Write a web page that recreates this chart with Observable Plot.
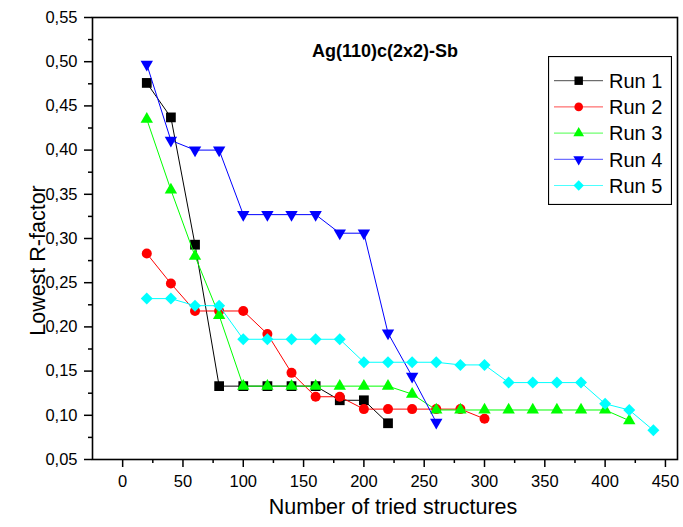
<!DOCTYPE html>
<html><head><meta charset="utf-8">
<script src="https://cdn.jsdelivr.net/npm/d3@7"></script>
<script src="https://cdn.jsdelivr.net/npm/@observablehq/plot@0.6"></script>
<style>
body{margin:0;background:#fff;font-family:Arial,"Liberation Sans",sans-serif}
#wrap{position:relative;width:683px;height:527px}
#legend{position:absolute;left:548px;top:56px}
</style>
</head><body><div id="wrap"></div>
<script>
const tried = [20,40,60,80,100,120,140,160,180,200,220,240,260,280,300,320,340,360,380,400,420,440];
const run1 = [0.476,0.437,0.293,0.133,0.133,0.133,0.133,0.133,0.117,0.117,0.091];
const run2 = [0.283,0.249,0.218,0.218,0.218,0.192,0.148,0.121,0.121,0.107,0.107,0.107,0.107,0.107,0.096];
const run3 = [0.435,0.355,0.280,0.213,0.133,0.133,0.133,0.133,0.133,0.133,0.133,0.124,0.106,0.106,0.106,0.106,0.106,0.106,0.106,0.106,0.094];
const run4 = [0.497,0.411,0.400,0.400,0.327,0.327,0.327,0.327,0.306,0.306,0.193,0.144,0.092];
const run5 = [0.232,0.232,0.224,0.224,0.186,0.186,0.186,0.186,0.186,0.160,0.160,0.160,0.160,0.157,0.157,0.137,0.137,0.137,0.137,0.113,0.106,0.083];
const seriesNames = ["Run 1","Run 2","Run 3","Run 4","Run 5"];
const seriesColors = ["#000000","#ff0000","#00ff00","#0000ff","#00ffff"];
const xTicks = [0,50,100,150,200,250,300,350,400,450];
const xMinorTicks = [25,75,125,175,225,275,325,375,425];
const yTicks = [0.05,0.10,0.15,0.20,0.25,0.30,0.35,0.40,0.45,0.50,0.55];
const yMinorTicks = [0.075,0.125,0.175,0.225,0.275,0.325,0.375,0.425,0.475,0.525];
const title = "Ag(110)c(2x2)-Sb";
const xLabel = "Number of tried structures";
const yLabel = "Lowest R-factor";

const sqrt3 = Math.sqrt(3);
const symbolTriangleDown = {draw(ctx, size){
  const y = Math.sqrt(size / (sqrt3 * 3));
  ctx.moveTo(0, 2*y); ctx.lineTo(-sqrt3*y, -y); ctx.lineTo(sqrt3*y, -y); ctx.closePath();
}};
const symbols = [d3.symbolSquare, d3.symbolCircle, d3.symbolTriangle, symbolTriangleDown, d3.symbolDiamond2];
const radii = [5.5, 5, 4.6, 4.6, 5.4];

const runs = [run1, run2, run3, run4, run5];
const data = runs.map((vals, i) => vals.map((v, j) => ({x: tried[j], y: v, run: seriesNames[i]})));

const fmt = d => d.toFixed(2).replace(".", ",");
const seriesMarks = data.flatMap((d, i) => [
  Plot.line(d, {x: "x", y: "y", stroke: seriesColors[i], strokeWidth: 1}),
  Plot.dot(d, {x: "x", y: "y", symbol: symbols[i], r: radii[i], fill: seriesColors[i], stroke: "none"})
]);

const chart = Plot.plot({
  width: 683, height: 527,
  marginLeft: 92, marginTop: 17, marginRight: 6, marginBottom: 68,
  style: {fontSize: "16.5px", fontFamily: "Arial, 'Liberation Sans', sans-serif", color: "black", background: "white"},
  x: {domain: [-25, 460]},
  y: {domain: [0.05, 0.55]},
  marks: [
    Plot.axisX(xTicks, {tickSize: 8, tickPadding: 8, strokeWidth: 1.5, label: null}),
    Plot.axisX(xMinorTicks, {tickSize: 4, strokeWidth: 1.5, tickFormat: () => "", label: null}),
    Plot.axisY(yTicks, {tickSize: 8, tickPadding: 7, strokeWidth: 1.5, tickFormat: fmt, label: null}),
    Plot.axisY(yMinorTicks, {tickSize: 4, strokeWidth: 1.5, tickFormat: () => "", label: null}),
    ...seriesMarks,
    Plot.frame({stroke: "black", strokeWidth: 1.6}),
    Plot.text([title], {text: d => d, frameAnchor: "top", dy: 27, fontWeight: "bold", fontSize: 18}),
    Plot.text([xLabel], {text: d => d, frameAnchor: "bottom", dy: 54, dx: 8, fontSize: 21.5}),
    Plot.text([yLabel], {text: d => d, frameAnchor: "left", textAnchor: "middle", dx: -54, dy: 22, rotate: -90, fontSize: 21.5})
  ]
});
const wrap = document.getElementById("wrap");
wrap.appendChild(chart);

// legend
const lw = 124, lh = 149, rowH = 26.2, row0 = 24.7;
const leg = d3.select(wrap).append("svg").attr("id", "legend").attr("width", lw).attr("height", lh);
leg.append("rect").attr("x", 0.5).attr("y", 0.5).attr("width", lw - 1).attr("height", lh - 1)
  .attr("fill", "white").attr("stroke", "black").attr("stroke-width", 1.2);
seriesNames.forEach((name, i) => {
  const g = leg.append("g").attr("transform", `translate(0,${row0 + i * rowH})`);
  g.append("line").attr("x1", 6).attr("x2", 55).attr("y1", 0).attr("y2", 0)
    .attr("stroke", seriesColors[i]).attr("stroke-width", 1).attr("opacity", 0.7);
  g.append("path").attr("transform", "translate(30.7,0)")
    .attr("d", d3.symbol(symbols[i], Math.PI * radii[i] * radii[i] * 0.75)())
    .attr("fill", seriesColors[i]);
  g.append("text").attr("x", 61).attr("y", 0).attr("dy", "0.36em")
    .attr("font-size", 20).attr("font-family", "Arial, 'Liberation Sans', sans-serif").text(name);
});
</script></body></html>
